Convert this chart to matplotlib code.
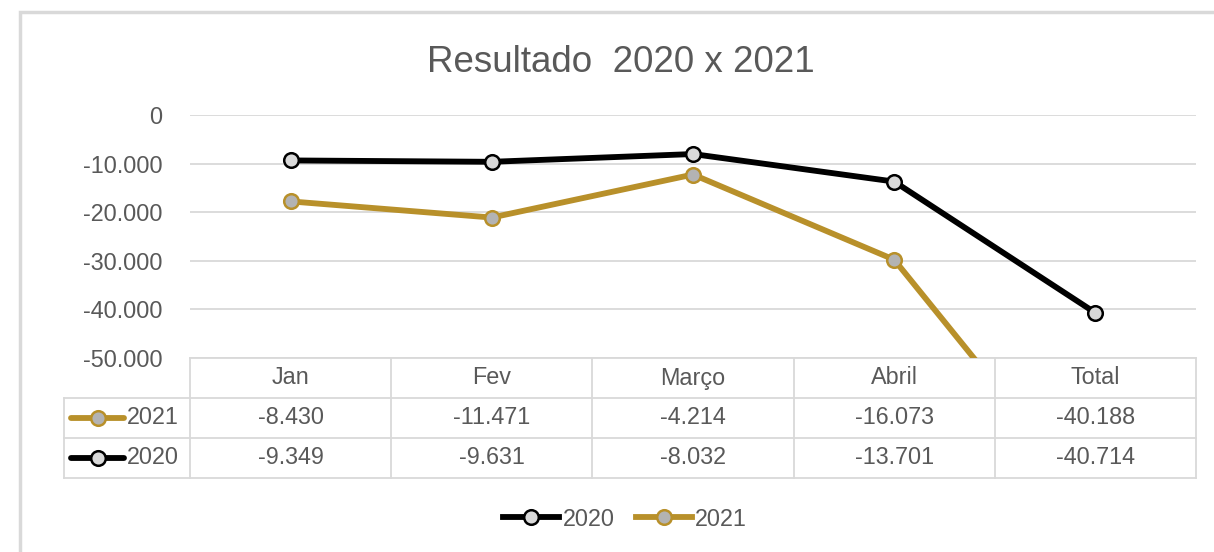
import matplotlib.pyplot as plt
import numpy as np
from matplotlib.lines import Line2D
from matplotlib.patches import Rectangle

plt.rcParams['font.family'] = ['Liberation Sans', 'DejaVu Sans']

months = ['Jan', 'Fev', 'Março', 'Abril', 'Total']
v2021 = [-8430, -11471, -4214, -16073, -40188]
v2020 = [-9349, -9631, -8032, -13701, -40714]
yticks = [0, -10000, -20000, -30000, -40000, -50000]

W, H = 1214, 552
TXT = '#595959'
GRID = '#d9d9d9'
GOLD = '#b8902a'
FS = 16.8
LW = 4.2
MS = 10.5


def fx(px):
    return px / W


def fy(py):
    return 1 - py / H


def fmt(v):
    return f'{v:,}'.replace(',', '.')


fig = plt.figure(figsize=(W / 100, H / 100), dpi=100)

# outer chart frame (cropped on right / bottom)
fig.add_artist(Rectangle((fx(20), fy(600)), fx(1300), fy(12) - fy(600),
                         transform=fig.transFigure, fill=False,
                         edgecolor=GRID, lw=2.5))

ax = fig.add_axes([fx(190), fy(358), fx(1196) - fx(190), fy(115) - fy(358)])
x = np.arange(len(months))
# stacked line chart: 2021 is drawn on top of 2020
stack2021 = np.array(v2020) + np.array(v2021)

l2020, = ax.plot(x, v2020, color='black', lw=LW, marker='o', ms=MS,
                 mfc='#d9d9d9', mec='black', mew=1.8, zorder=3)
l2021, = ax.plot(x, stack2021, color=GOLD, lw=LW, marker='o', ms=MS,
                 mfc='#b3b3b3', mec=GOLD, mew=1.8, zorder=3)

ax.set_xlim(-0.5, len(months) - 0.5)
ax.set_ylim(-50000, 0)
ax.set_yticks(yticks)
ax.set_yticklabels([fmt(t) for t in yticks])
ax.tick_params(axis='y', length=0, pad=20, labelsize=FS, labelcolor=TXT)
ax.set_xticks([])
ax.grid(axis='y', color=GRID, lw=1.3)
for s in ax.spines.values():
    s.set_visible(False)
ax.set_axisbelow(True)

# data table below the plot
tr = ax.get_xaxis_transform()
row_h = 40 / 243
left = -0.5 - 126 / (1006 / len(months))
right = len(months) - 0.5
lk = dict(color=GRID, lw=1.3, clip_on=False, transform=tr)
ax.plot([-0.5, right], [0, 0], **lk)
ax.plot([left, right], [-row_h, -row_h], **lk)
ax.plot([left, right], [-2 * row_h, -2 * row_h], **lk)
ax.plot([left, right], [-3 * row_h, -3 * row_h], **lk)
ax.plot([left, left], [-row_h, -3 * row_h], **lk)
for i in range(len(months) + 1):
    ax.plot([i - 0.5, i - 0.5], [0, -3 * row_h], **lk)

for i, m in enumerate(months):
    ax.text(i, -0.5 * row_h, m, transform=tr, ha='center', va='center',
            fontsize=FS, color=TXT)
    ax.text(i, -1.5 * row_h, fmt(v2021[i]), transform=tr, ha='center',
            va='center', fontsize=FS, color=TXT)
    ax.text(i, -2.5 * row_h, fmt(v2020[i]), transform=tr, ha='center',
            va='center', fontsize=FS, color=TXT)

# legend keys inside the table
for yy, line, lab in [(418, l2021, '2021'), (458, l2020, '2020')]:
    fig.add_artist(Line2D([fx(71), fx(124)], [fy(yy), fy(yy)],
                          transform=fig.transFigure, color=line.get_color(),
                          lw=LW, solid_capstyle='round'))
    fig.add_artist(Line2D([fx(98)], [fy(yy)], transform=fig.transFigure,
                          marker='o', ms=MS, mfc=line.get_markerfacecolor(),
                          mec=line.get_markeredgecolor(), mew=1.8))
    fig.text(fx(127), fy(yy), lab, ha='left', va='center', fontsize=FS,
             color=TXT)

fig.text(fx(621), fy(62), 'Resultado  2020 x 2021', ha='center',
         va='center', fontsize=26.5, color=TXT)

fig.legend([l2020, l2021], ['2020', '2021'], loc='center',
           bbox_to_anchor=(fx(625), fy(519)), ncol=2, frameon=False,
           fontsize=FS, labelcolor=TXT, handlelength=2.4,
           handletextpad=0.15, columnspacing=0.9)

fig.savefig('out.png', dpi=100)
